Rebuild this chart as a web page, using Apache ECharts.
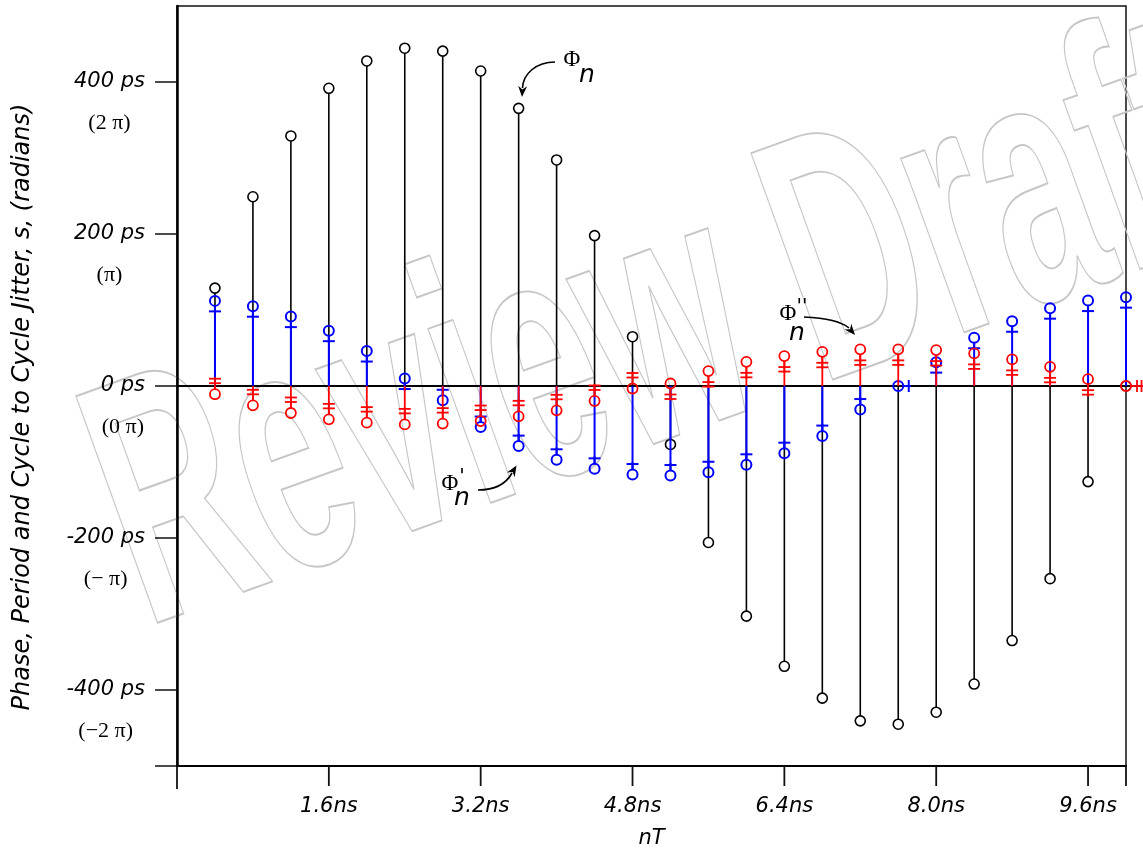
<!DOCTYPE html>
<html><head><meta charset="utf-8">
<script src="https://cdn.jsdelivr.net/npm/echarts@6/dist/echarts.min.js"></script>
<style>html,body{margin:0;padding:0;background:#fff}#c{width:1143px;height:854px}</style>
</head><body><div id="c"></div>
<script>
// ---- data ----
const xValues = [0.4,0.8,1.2,1.6,2.0,2.4,2.8,3.2,3.6,4.0,4.4,4.8,5.2,5.6,6.0,6.4,6.8,7.2,7.6,8.0,8.4,8.8,9.2,9.6,10.0];
const phaseJitter  = [128.8,249,329,391.7,427.7,444.5,440.6,414.5,365.3,297.4,197.9,64.9,-76.9,-205.9,-302.8,-368.8,-410.7,-440.6,-445,-429.2,-392.2,-334.9,-253.5,-125.8,0];
const periodJitter = [112,105,91.3,72.8,46,9.9,-18.8,-54,-79.1,-97.1,-109,-116.5,-117.8,-113.5,-103.7,-88.4,-65.9,-31,0,31.4,63.5,85.2,102.4,112.4,116.9];
const c2cJitter    = [-10.8,-25.4,-35.5,-43.9,-48.2,-50.5,-49.5,-46.1,-39.9,-32,-19.7,-3.3,3.3,19.6,31.8,39.4,45,48.2,48.2,47.3,42.9,35,25.2,9,0];
const xTickValues  = [0,1.6,3.2,4.8,6.4,8.0,9.6,10];
const xLabelValues = [1.6,3.2,4.8,6.4,8.0,9.6];
const xLabelTexts  = ['1.6ns','3.2ns','4.8ns','6.4ns','8.0ns','9.6ns'];
const yTickValues  = [-500,-400,-200,0,200,400];
const yLabelValues = [-400,-200,0,200,400];
const yLabelPs     = ['-400 ps','-200 ps','0 ps','200 ps','400 ps'];
const yLabelPi     = ['(\u22122 \u03c0)','(\u2212 \u03c0)','(0 \u03c0)','(\u03c0)','(2 \u03c0)'];

const SANS = '"DejaVu Sans", "Liberation Sans", sans-serif';
const SERIF = '"Liberation Serif", "DejaVu Serif", serif';

function zip(xs, ys){ return xs.map((x,i)=>[x, ys[i]]); }

function stemRenderer(color, lw, tickOffsets, shaftLen){
  return function(params, api){
    const x = api.value(0), v = api.value(1);
    const p0 = api.coord([x, 0]);
    const p1 = api.coord([x, v]);
    const dx = p0[0]-p1[0], dy = p0[1]-p1[1];
    const len = Math.hypot(dx, dy);
    let ux, uy;
    if (len < 0.5){ ux = 1; uy = 0; } else { ux = dx/len; uy = dy/len; }
    const r = 5;
    const st = {stroke: color, lineWidth: lw, fill: null};
    const ch = [];
    if (len > r) ch.push({type:'line', shape:{x1:p0[0], y1:p0[1], x2:p1[0]+ux*r, y2:p1[1]+uy*r}, style: st});
    if (shaftLen) ch.push({type:'line', shape:{x1:p1[0]+ux*r, y1:p1[1]+uy*r, x2:p1[0]+ux*shaftLen, y2:p1[1]+uy*shaftLen}, style: st});
    tickOffsets.forEach(t=>{
      const cx = p1[0]+ux*t, cy = p1[1]+uy*t, px = -uy, py = ux;
      ch.push({type:'line', shape:{x1:cx-px*6, y1:cy-py*6, x2:cx+px*6, y2:cy+py*6}, style: st});
    });
    ch.push({type:'circle', shape:{cx:p1[0], cy:p1[1], r:r}, style:{stroke: color, lineWidth: lw, fill: 'none'}});
    return {type:'group', children: ch};
  };
}

function arrow(x1,y1,c1x,c1y,c2x,c2y,x2,y2,tx,ty){
  const dx = tx-x2, dy = ty-y2, L = Math.hypot(dx,dy), ux = dx/L, uy = dy/L, px = -uy, py = ux;
  return [
    {type:'bezierCurve', shape:{x1:x1,y1:y1,cpx1:c1x,cpy1:c1y,cpx2:c2x,cpy2:c2y,x2:x2,y2:y2}, style:{stroke:'#000', lineWidth:1.6, fill:null}, z:10},
    {type:'polygon', shape:{points:[[tx,ty],[tx-ux*11+px*4.5,ty-uy*11+py*4.5],[tx-ux*7.5,ty-uy*7.5],[tx-ux*11-px*4.5,ty-uy*11-py*4.5]]}, style:{fill:'#000'}, z:10}
  ];
}
function txt(s, x, y, font){
  return {type:'text', x:x, y:y, z:10, style:{text:s, font:font, fill:'#000', align:'center', verticalAlign:'middle'}};
}

const chart = echarts.init(document.getElementById('c'), null, {renderer:'canvas'});
const graphics = [
  {type:'text', x:172, y:701, rotation: 19.8*Math.PI/180, scaleX:0.5505, z:0, silent:true,
   style:{text:'Review Draft', font:'bold 350px "Liberation Sans Narrow", "Liberation Sans", sans-serif', fill:'none', stroke:'#c6c6c6', lineWidth:2, strokeNoScale:true, align:'left', verticalAlign:'bottom'}},
  txt('\u03a6', 572, 60, '23px '+SERIF),
  txt('n', 587, 75, 'italic 25px '+SANS),
  txt('\u03a6', 450, 484, '23px '+SERIF),
  txt("'", 462, 477, 'italic 20px '+SANS),
  txt('n', 462, 498, 'italic 25px '+SANS),
  txt('\u03a6', 788, 314, '23px '+SERIF),
  txt("''", 802, 307, 'italic 20px '+SANS),
  txt('n', 797, 333, 'italic 25px '+SANS)
].concat(
  arrow(555,62, 536,62, 523,74, 522.5,88, 522,97),
  arrow(478,490, 494,490, 506,484, 512,473, 516.5,465.5),
  arrow(804,317, 826,318, 842,322, 849,328, 855,335)
);

chart.setOption({
  backgroundColor:'#fff',
  animation:false,
  grid:{left:177, right:17, top:6, bottom:88, show:true, borderColor:'#111', borderWidth:1.5, backgroundColor:'transparent'},
  xAxis:{
    type:'value', min:0, max:10, interval:1.6,
    name:'nT', nameLocation:'middle', nameGap:62,
    nameTextStyle:{fontFamily:SANS, fontStyle:'italic', fontSize:21, color:'#000'},
    axisLine:{show:true, onZero:false, lineStyle:{color:'#000', width:2}},
    axisTick:{show:false},
    axisLabel:{show:true, margin:30, showMinLabel:true, showMaxLabel:true, fontFamily:SANS, fontStyle:'italic', fontSize:21, color:'#000',
      formatter:v=>{const i = xLabelValues.findIndex(a=>Math.abs(a-v)<1e-6); return i>=0 ? xLabelTexts[i] : '';}},
    splitLine:{show:false}
  },
  yAxis:{
    type:'value', min:-500, max:500,
    name:'Phase, Period and Cycle to Cycle Jitter, s, (radians)', nameLocation:'middle', nameGap:142, nameRotate:90,
    nameTextStyle:{fontFamily:SANS, fontStyle:'italic', fontSize:24, color:'#000', padding:[0,42,0,0]},
    axisLine:{show:true, onZero:false, lineStyle:{color:'#000', width:2.5}},
    axisTick:{show:true, length:22, customValues:yTickValues, lineStyle:{color:'#111', width:1.5}},
    axisLabel:{show:true, margin:32, customValues:yLabelValues,
      formatter:v=>{const i = yLabelValues.findIndex(a=>Math.abs(a-v)<1e-6); return i>=0 ? '{e| }\n{a|'+yLabelPs[i]+'}\n{b|'+yLabelPi[i]+'}' : '';},
      rich:{
        e:{fontSize:12, lineHeight:41},
        a:{fontFamily:SANS, fontStyle:'italic', fontSize:21, color:'#000', lineHeight:41, align:'right'},
        b:{fontFamily:SERIF, fontSize:22, color:'#000', lineHeight:41, align:'center'}
      }},
    splitLine:{show:false}
  },
  graphic: graphics,
  series:[
    {type:'custom', name:'xTicks', z:5, clip:false, data:xTickValues.map(v=>[v,-500]), encode:{x:0,y:1},
     renderItem:(p, api)=>{const a = api.coord([api.value(0), api.value(1)]); const L = api.value(0)===0 ? 23 : 20; return {type:'line', shape:{x1:a[0], y1:a[1], x2:a[0], y2:a[1]+L}, style:{stroke:'#111', lineWidth:1.8}};}},
    {type:'custom', name:'zero', z:1, clip:false, data:[[0,0]],
     renderItem:(p, api)=>{const a = api.coord([0,0]); return {type:'line', shape:{x1:a[0], y1:a[1], x2:api.getWidth(), y2:a[1]}, style:{stroke:'#000', lineWidth:2}};}},
    {type:'custom', name:'Phase jitter', z:2, clip:false, data:zip(xValues, phaseJitter), encode:{x:0,y:1}, renderItem:stemRenderer('#000', 1.6, [], 0)},
    {type:'custom', name:'Period jitter', z:3, clip:false, data:zip(xValues, periodJitter), encode:{x:0,y:1}, renderItem:stemRenderer('#0000ff', 2, [10.5], 12.5)},
    {type:'custom', name:'Cycle to cycle jitter', z:4, clip:false, data:zip(xValues, c2cJitter), encode:{x:0,y:1}, renderItem:stemRenderer('#ff0000', 1.8, [11, 15.5], 17)}
  ]
});
</script></body></html>
